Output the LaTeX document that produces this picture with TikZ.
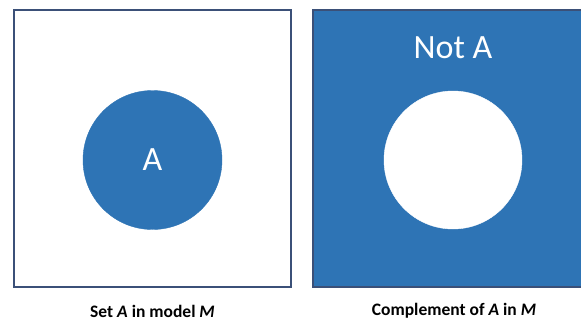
\documentclass[tikz,border=0pt]{standalone}
\usepackage{fontspec}
\setmainfont{Carlito}
\usepackage{tikz}
\definecolor{setblue}{HTML}{2E74B5}
\definecolor{frameblue}{HTML}{3B5078}

\begin{document}
\begin{tikzpicture}[x=1pt,y=-1pt]
	\useasboundingbox (0,0) rectangle (581,322);
	\node[draw=frameblue, line width=1.5pt, fill=white, minimum width=277pt, minimum height=277pt, inner sep=0pt] (M1) at (152.5,148.5) {};
	\node[draw=frameblue, line width=1.5pt, fill=setblue, minimum width=280pt, minimum height=277pt, inner sep=0pt] (M2) at (453,148.5) {};
	\node[fill=setblue, draw=setblue, circle, minimum size=139pt, inner sep=0pt, text=white, font=\fontsize{34}{40}\selectfont] (A) at (152.5,160) {A};
	\node[fill=white, draw=white, circle, minimum size=138pt, inner sep=0pt] (notA) at (453,160) {};
	\node[text=white, font=\fontsize{34}{40}\selectfont] (notAlabel) at (453,48) {Not A};
	\node[font=\fontsize{17.5}{21}\selectfont\bfseries] (cap1) at (152.5,311) {Set \textit{A} in model \textit{M}};
	\node[font=\fontsize{17.5}{21}\selectfont\bfseries] (cap2) at (454,311) {Complement of \textit{A} in \textit{M}};
\end{tikzpicture}
\end{document}
